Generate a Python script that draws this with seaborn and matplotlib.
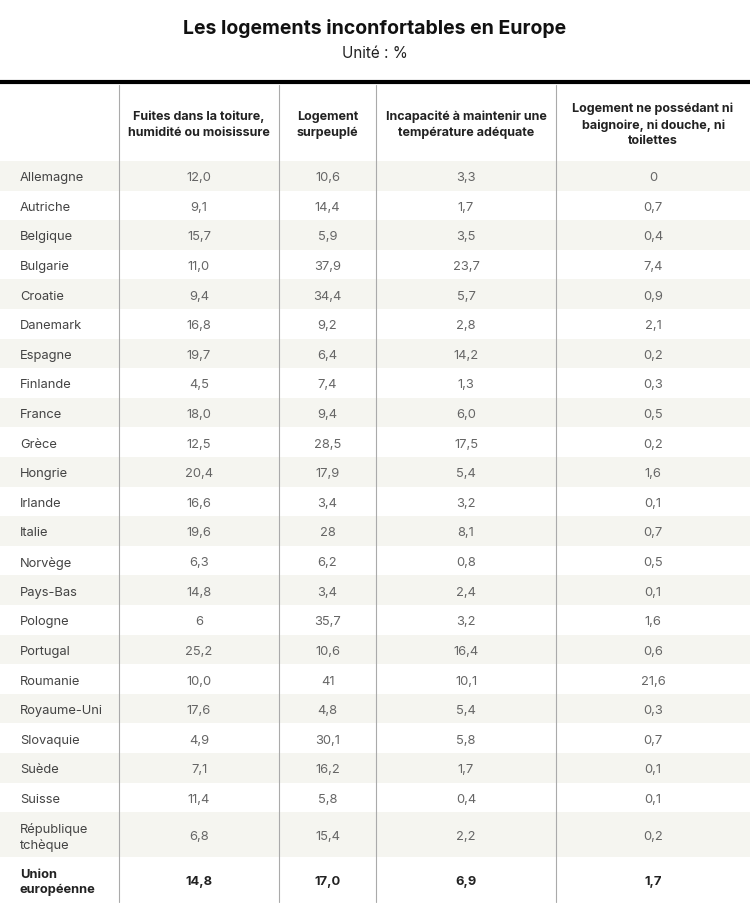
import matplotlib.pyplot as plt
import seaborn as sns

sns.set_theme(style="white")
plt.rcParams['font.family'] = ['Inter', 'DejaVu Sans']

titre = "Les logements inconfortables en Europe"
sous_titre = "Unité : %"

entetes = [
    "Fuites dans la toiture,\nhumidité ou moisissure",
    "Logement\nsurpeuplé",
    "Incapacité à maintenir une\ntempérature adéquate",
    "Logement ne possédant ni\nbaignoire, ni douche, ni\ntoilettes",
]

pays = ["Allemagne", "Autriche", "Belgique", "Bulgarie", "Croatie", "Danemark",
        "Espagne", "Finlande", "France", "Grèce", "Hongrie", "Irlande", "Italie",
        "Norvège", "Pays-Bas", "Pologne", "Portugal", "Roumanie", "Royaume-Uni",
        "Slovaquie", "Suède", "Suisse", "République\ntchèque", "Union\neuropéenne"]

fuites = ["12,0", "9,1", "15,7", "11,0", "9,4", "16,8", "19,7", "4,5", "18,0", "12,5",
          "20,4", "16,6", "19,6", "6,3", "14,8", "6", "25,2", "10,0", "17,6", "4,9",
          "7,1", "11,4", "6,8", "14,8"]
surpeuple = ["10,6", "14,4", "5,9", "37,9", "34,4", "9,2", "6,4", "7,4", "9,4", "28,5",
             "17,9", "3,4", "28", "6,2", "3,4", "35,7", "10,6", "41", "4,8", "30,1",
             "16,2", "5,8", "15,4", "17,0"]
temperature = ["3,3", "1,7", "3,5", "23,7", "5,7", "2,8", "14,2", "1,3", "6,0", "17,5",
               "5,4", "3,2", "8,1", "0,8", "2,4", "3,2", "16,4", "10,1", "5,4", "5,8",
               "1,7", "0,4", "2,2", "6,9"]
sanitaires = ["0", "0,7", "0,4", "7,4", "0,9", "2,1", "0,2", "0,3", "0,5", "0,2",
              "1,6", "0,1", "0,7", "0,5", "0,1", "1,6", "0,6", "21,6", "0,3", "0,7",
              "0,1", "0,1", "0,2", "1,7"]

colonnes = [fuites, surpeuple, temperature, sanitaires]

# mise en page (pixels)
W, H = 750, 912
bords = [0, 119, 279, 376, 556, 750]
haut_entete = 86
debut = 162

fig = plt.figure(figsize=(W / 100, H / 100), dpi=100)
ax = fig.add_axes([0, 0, 1, 1])
ax.set_xlim(0, W)
ax.set_ylim(H, 0)
ax.axis('off')

ax.text(W / 2, 28, titre, ha='center', va='center', fontsize=14,
        fontweight='bold', color='#111111')
ax.text(W / 2, 53, sous_titre, ha='center', va='center', fontsize=11,
        color='#222222')
ax.plot([0, W], [83, 83], color='black', lw=3, solid_capstyle='butt')

for j, txt in enumerate(entetes):
    cx = (bords[j + 1] + bords[j + 2]) / 2
    ax.text(cx, 125, txt, ha='center', va='center', fontsize=9,
            fontweight='bold', color='#222222', linespacing=1.4,
            multialignment='center')

y = debut
for i, nom in enumerate(pays):
    h = 45 if '\n' in nom else 29.6
    if i % 2 == 0:
        ax.add_patch(plt.Rectangle((0, y), W, h, color='#f5f5f0', lw=0, zorder=0))
    total = i == len(pays) - 1
    poids = 'bold' if total else 'normal'
    yc = y + h / 2 + 1.5
    ax.text(20, yc, nom, ha='left', va='center', fontsize=9.3,
            fontweight=poids, color='#222222' if total else '#444444',
            linespacing=1.3)
    for j, col in enumerate(colonnes):
        cx = (bords[j + 1] + bords[j + 2]) / 2
        ax.text(cx, yc, col[i], ha='center', va='center', fontsize=9.3,
                fontweight=poids, color='#222222' if total else '#666666')
    y += h

for x in bords[1:-1]:
    ax.plot([x, x], [haut_entete, y], color='#aaaaaa', lw=0.8, zorder=2)

fig.savefig("out.png", dpi=100)
